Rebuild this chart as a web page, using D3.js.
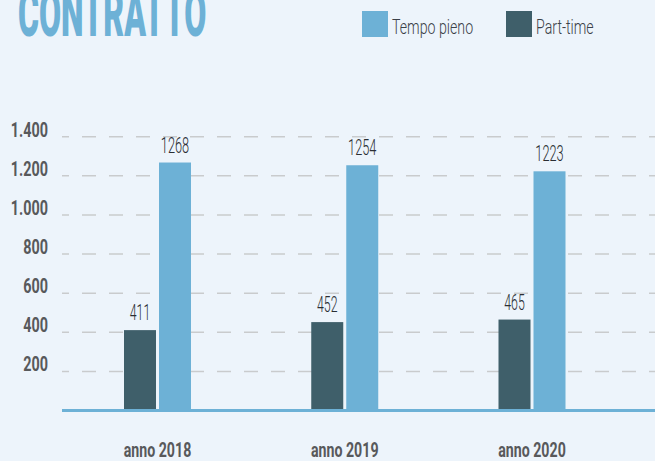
<!DOCTYPE html>
<html>
<head>
<meta charset="utf-8">
<script src="https://cdn.jsdelivr.net/npm/d3@7"></script>
<style>
  html, body { margin: 0; padding: 0; background: #edf4fb; }
  svg { display: block; }
</style>
</head>
<body>
<svg id="chart" width="655" height="461"></svg>
<script>
// data
const years = ["anno 2018", "anno 2019", "anno 2020"];
const tempoPieno = [1268, 1254, 1223];
const partTime = [411, 452, 465];
const yTicks = [200, 400, 600, 800, 1000, 1200, 1400];
const seriesNames = ["Tempo pieno", "Part-time"];

const BLUE = "#6db1d6";
const DARK = "#3f5f6a";
const BAR_W = 32;

const svg = d3.select("#chart");

const x = d3.scalePoint().domain(years).range([157.5, 532]);
const y = d3.scaleLinear().domain([0, 1400]).range([410.5, 136.7]);

const it = d3.formatLocale({ decimal: ",", thousands: ".", grouping: [3], currency: ["€", ""] });
const fmt = it.format(",");

// helper: condensed text by squeezing horizontally
function squeezed(sel, px, py, sx) {
  return sel.attr("transform", `translate(${px},${py}) scale(${sx},1)`);
}

// title (runs off the top edge, like the original)
squeezed(svg.append("text"), 18, 36, 0.5)
  .attr("font-family", "Roboto")
  .attr("font-weight", 900)
  .attr("font-size", 64)
  .attr("fill", BLUE)
  .text("CONTRATTO");

// legend
const legend = svg.append("g");
const legendX = [362, 506];
const legendColours = [BLUE, DARK];
seriesNames.forEach((name, i) => {
  legend.append("rect")
    .attr("x", legendX[i]).attr("y", 11)
    .attr("width", 26).attr("height", 26)
    .attr("fill", legendColours[i]);
  squeezed(legend.append("text"), legendX[i] + 30, 34, 0.71)
    .attr("font-family", "Roboto")
    .attr("font-weight", 300)
    .attr("font-size", 20)
    .attr("fill", "#3b4148")
    .text(name);
});

// dashed gridlines
svg.append("g")
  .selectAll("line")
  .data(yTicks)
  .join("line")
  .attr("x1", 62).attr("x2", 655)
  .attr("y1", d => y(d)).attr("y2", d => y(d))
  .attr("stroke", "#c9cbcd")
  .attr("stroke-width", 1.5)
  .attr("stroke-dasharray", "14 13")
  .attr("stroke-dashoffset", 7);

// y labels, baseline sitting on the gridline
svg.append("g")
  .selectAll("text")
  .data(yTicks)
  .join("text")
  .attr("transform", d => `translate(48,${y(d)}) scale(0.72,1)`)
  .attr("text-anchor", "end")
  .attr("font-family", "Roboto")
  .attr("font-weight", 700)
  .attr("font-size", 20)
  .attr("fill", "#58595b")
  .text(d => fmt(d));

// bars
const groups = svg.append("g")
  .selectAll("g")
  .data(years)
  .join("g")
  .attr("transform", d => `translate(${x(d)},0)`);

groups.append("rect")
  .attr("x", -33.5)
  .attr("width", BAR_W)
  .attr("y", (d, i) => y(partTime[i]))
  .attr("height", (d, i) => y(0) - y(partTime[i]))
  .attr("fill", DARK);

groups.append("rect")
  .attr("x", 1.5)
  .attr("width", BAR_W)
  .attr("y", (d, i) => y(tempoPieno[i]))
  .attr("height", (d, i) => y(0) - y(tempoPieno[i]))
  .attr("fill", BLUE);

// value labels
groups.append("text")
  .attr("transform", (d, i) => `translate(${-33.5 + BAR_W / 2},${y(partTime[i]) - 10}) scale(0.56,1)`)
  .attr("text-anchor", "middle")
  .attr("font-family", "Roboto")
  .attr("font-weight", 300)
  .attr("font-size", 22)
  .attr("fill", "#2a2e33")
  .text((d, i) => partTime[i]);

groups.append("text")
  .attr("transform", (d, i) => `translate(${1.5 + BAR_W / 2},${y(tempoPieno[i]) - 10}) scale(0.58,1)`)
  .attr("text-anchor", "middle")
  .attr("font-family", "Roboto")
  .attr("font-weight", 300)
  .attr("font-size", 22)
  .attr("fill", "#2a2e33")
  .text((d, i) => tempoPieno[i]);

// baseline
svg.append("line")
  .attr("x1", 62).attr("x2", 655)
  .attr("y1", y(0)).attr("y2", y(0))
  .attr("stroke", BLUE)
  .attr("stroke-width", 3);

// category labels
groups.append("text")
  .attr("transform", "translate(0,457) scale(0.71,1)")
  .attr("text-anchor", "middle")
  .attr("font-family", "Roboto")
  .attr("font-weight", 700)
  .attr("font-size", 20)
  .attr("fill", "#58595b")
  .text(d => d);
</script>
</body>
</html>
